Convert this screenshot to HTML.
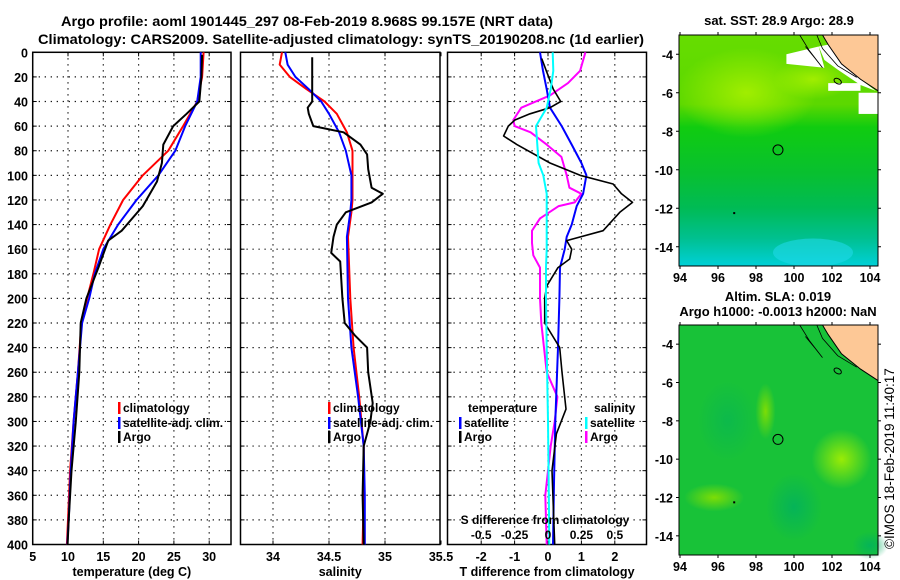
<!DOCTYPE html>
<html><head><meta charset="utf-8"><style>
body{margin:0;background:#fff;}
svg{display:block;font-family:"Liberation Sans",sans-serif;font-weight:bold;}
</style></head><body>
<svg id="chart" width="900" height="580" viewBox="0 0 900 580" xmlns="http://www.w3.org/2000/svg">
<defs>
<radialGradient id="gY1" cx="0.5" cy="0.5" r="0.5"><stop offset="0" stop-color="#a8f000" stop-opacity="0.9"/><stop offset="1" stop-color="#a8f000" stop-opacity="0"/></radialGradient>
<radialGradient id="gY2" cx="0.5" cy="0.5" r="0.5"><stop offset="0" stop-color="#88e000" stop-opacity="0.9"/><stop offset="1" stop-color="#88e000" stop-opacity="0"/></radialGradient>
<radialGradient id="gB" cx="0.5" cy="0.5" r="0.5"><stop offset="0" stop-color="#00b060" stop-opacity="0.8"/><stop offset="1" stop-color="#00b060" stop-opacity="0"/></radialGradient>
<linearGradient id="sst" x1="0" y1="0" x2="0" y2="1">
<stop offset="0" stop-color="#66dd00"/><stop offset="0.3" stop-color="#5cd800"/><stop offset="0.4" stop-color="#10cc10"/><stop offset="0.6" stop-color="#08c030"/><stop offset="0.75" stop-color="#00bb55"/><stop offset="0.88" stop-color="#00c090"/><stop offset="1" stop-color="#00d0d8"/>
</linearGradient>
</defs>
<text x="61" y="26" font-size="14" textLength="492" lengthAdjust="spacingAndGlyphs">Argo profile: aoml 1901445_297 08-Feb-2019 8.968S 99.157E (NRT data)</text>
<text x="38" y="44" font-size="14" textLength="606" lengthAdjust="spacingAndGlyphs">Climatology: CARS2009. Satellite-adjusted climatology: synTS_20190208.nc (1d earlier)</text>
<g id="panels"></g>
<g id="maps"></g>
</svg>
<script>
// ---- data ----
const depthLevels = [0,20,40,60,80,100,120,140,160,180,200,220,260,300,340,380,400];
const tempClim   = [29.2,29.0,28.3,26.3,24.2,20.6,17.8,16.0,14.4,13.6,12.7,11.9,11.4,10.8,10.3,10.0,9.85];
const tempSat    = [28.8,28.8,28.3,26.6,25.2,22.8,19.7,17.1,15.0,13.8,13.0,12.0,11.4,10.8,10.4,10.1,9.9];
const argoDepth  = [2,20,40,50,60,75,90,105,125,145,153,175,200,220,260,300,340,380,400];
const tempArgo   = [29.0,28.9,28.6,26.8,24.9,23.5,23.3,22.6,20.6,17.6,15.7,14.3,12.6,11.8,11.6,11.1,10.5,10.1,9.95];

const salDepth   = [0,10,20,30,40,50,65,80,100,120,130,150,200,240,280,320,360,400];
const salClim    = [34.08,34.06,34.15,34.30,34.46,34.57,34.66,34.71,34.71,34.71,34.70,34.67,34.69,34.72,34.77,34.81,34.81,34.80];
const salSat     = [34.11,34.13,34.20,34.32,34.43,34.50,34.59,34.65,34.70,34.70,34.69,34.66,34.67,34.70,34.76,34.81,34.82,34.82];
const salArgoDepth = [4,30,40,45,50,60,65,75,83,95,110,115,122,130,140,150,163,170,200,220,230,240,260,285,300,310,320,360,400];
const salArgo    = [34.35,34.35,34.35,34.31,34.32,34.36,34.63,34.78,34.84,34.85,34.88,34.98,34.88,34.65,34.57,34.54,34.52,34.60,34.62,34.64,34.73,34.84,34.85,34.89,34.87,34.84,34.81,34.80,34.81];

const diffDepth  = [0,15,30,45,60,75,90,100,115,125,140,150,160,175,200,240,300,350,400];
const tDiffSat   = [-0.24,-0.15,-0.04,0.06,0.41,0.71,1.0,1.15,1.05,0.86,0.71,0.56,0.50,0.36,0.34,0.30,0.22,0.18,0.15];
const sDiffSat   = [0.035,0.04,0.02,-0.01,-0.09,-0.08,-0.07,-0.035,-0.01,-0.01,-0.01,-0.01,-0.01,-0.015,-0.015,-0.01,0.0,0.005,0.01];
const tArgoDepth = [5,15,30,40,45,50,55,60,68,75,90,100,107,115,122,130,145,153,160,168,175,190,200,220,240,260,290,310,340,400];
const tDiffArgo  = [-0.19,-0.05,0.16,0.38,0.06,-0.54,-0.99,-1.19,-1.33,-0.93,0.06,0.96,1.95,2.2,2.53,2.15,1.65,0.56,0.71,0.65,0.3,-0.04,-0.1,-0.1,0.35,0.42,0.54,0.25,0.12,0.2];
const sArgoDepth = [0,15,25,35,45,55,60,65,75,85,100,110,115,122,125,135,145,155,165,175,200,220,240,260,280,300,320,360,400];
const sDiffArgo  = [0.28,0.24,0.15,0.015,-0.2,-0.26,-0.25,-0.13,-0.01,0.10,0.14,0.16,0.25,0.20,0.08,-0.06,-0.12,-0.12,-0.11,-0.06,-0.06,-0.05,-0.03,-0.01,0.07,0.05,0.02,-0.02,-0.01];

const depthTicks = [0,20,40,60,80,100,120,140,160,180,200,220,240,260,280,300,320,340,360,380,400];
const tempTicks  = [5,10,15,20,25,30];
const salTicks   = [34,34.5,35,35.5];
const tdTicks    = [-2,-1,0,1,2];
const sdTicks    = [-0.5,-0.25,0,0.25,0.5];
const sdLabels   = ['-0.5','-0.25','0','0.25','0.5'];
const tdLabels   = ['-2','-1','0','1','2'];

// ---- geometry ----
const NS='http://www.w3.org/2000/svg';
const top0=52.3, bot0=544.5;
const yD = d => top0 + d*(bot0-top0)/400;
const xT = t => 32.7 + (t-5)*7.06;
const xS = s => 329 + (s-34.5)*112;
const xTD = t => 548 + t*33.4;
const xSD = s => 548 + s/0.25*33.4;
const panels=document.getElementById('panels');
function mk(tag,attrs,parent){const e=document.createElementNS(NS,tag);for(const k in attrs)e.setAttribute(k,attrs[k]);(parent||panels).appendChild(e);return e;}
function txt(x,y,s,size,anchor,parent){const e=mk('text',{x:x,y:y,'font-size':size,'text-anchor':anchor||'middle'},parent);e.textContent=s;return e;}

function frame(x0,x1,name,xticks,xf,labels,xlabel){
  const g=mk('g',{});
  
  
  depthTicks.forEach(d=>{ if(d>0&&d<400){ mk('line',{x1:x0,x2:x1,y1:yD(d),y2:yD(d),stroke:'#000','stroke-width':1.2,'stroke-dasharray':'1.2 4.8'},g);} 
    mk('line',{x1:x0,x2:x0+4,y1:yD(d),y2:yD(d),stroke:'#000'},g); mk('line',{x1:x1-4,x2:x1,y1:yD(d),y2:yD(d),stroke:'#000'},g);});
  xticks.forEach((v,i)=>{const x=xf(v); if(x>x0+2&&x<x1-2){mk('line',{x1:x,x2:x,y1:top0,y2:bot0,stroke:'#000','stroke-width':1.2,'stroke-dasharray':'1.2 4.8'},g);}
    mk('line',{x1:x,x2:x,y1:top0,y2:top0+4,stroke:'#000'},g); mk('line',{x1:x,x2:x,y1:bot0-4,y2:bot0,stroke:'#000'},g);
    if(labels){const t=txt(x,561,labels[i],12.5,'middle',g); }});
  mk('rect',{x:x0,y:top0,width:x1-x0,height:bot0-top0,fill:'none',stroke:'#000','stroke-width':1.5},g);
  const xl=txt((x0+x1)/2,576,xlabel,12.5,'middle',g); 
  return g;
}
function line(xs,ds,xf,color,name,w){
  const pts=xs.map((v,i)=>xf(v).toFixed(1)+','+yD(ds[i]).toFixed(1)).join(' ');
  const p=mk('polyline',{points:pts,fill:'none',stroke:color,'stroke-width':w||2,'stroke-linejoin':'round'});
  
  
}
function legend(x,y,color,label,g){
  mk('rect',{x:x,y:y-10,width:2.5,height:12,fill:color},g);
  txt(x+5,y,label,12,'start',g);
}

depthTicks.forEach(d=>{const t=txt(28,yD(d)+5,String(d),12.5,'end');  });

const g1=frame(32.7,231,'temperature-panel',tempTicks,xT,tempTicks.map(String),'temperature (deg C)');
line(tempClim,depthLevels,xT,'#f00','temp-climatology-line');
line(tempSat,depthLevels,xT,'#00f','temp-satellite-line');
line(tempArgo,argoDepth,xT,'#000','temp-argo-line');
const l1=mk('g',{});  
legend(118,412,'#f00','climatology',l1);legend(118,427,'#00f','satellite-adj. clim.',l1);legend(118,441,'#000','Argo',l1);

const g2=frame(240.5,440,'salinity-panel',salTicks,xS,['34','34.5','35','35.5'],'salinity');
line(salClim,salDepth,xS,'#f00','sal-climatology-line');
line(salSat,salDepth,xS,'#00f','sal-satellite-line');
line(salArgo,salArgoDepth,xS,'#000','sal-argo-line');
const l2=mk('g',{});  
legend(328,412,'#f00','climatology',l2);legend(328,427,'#00f','satellite-adj. clim.',l2);legend(328,441,'#000','Argo',l2);

const g3=frame(447.5,646.5,'difference-panel',tdTicks,xTD,tdLabels,'T difference from climatology');
line(sDiffArgo,sArgoDepth,xSD,'#f0f','sal-diff-argo-line');
line(tDiffSat,diffDepth,xTD,'#00f','temp-diff-satellite-line');
line(tDiffArgo,tArgoDepth,xTD,'#000','temp-diff-argo-line',1.6);
line(sDiffSat,diffDepth,xSD,'#0ff','sal-diff-satellite-line');
const l3=mk('g',{});  
txt(468,412,'temperature',12,'start',l3);legend(459,427,'#00f','satellite',l3);legend(459,441,'#000','Argo',l3);
txt(594,412,'salinity',12,'start',l3);legend(585,427,'#0ff','satellite',l3);legend(585,441,'#f0f','Argo',l3);
const sdt=txt(545,524,'S difference from climatology',12,'middle'); 
sdTicks.forEach((v,i)=>{const t=txt(xSD(v),539,sdLabels[i],12,'middle'); });

// ---- maps ----
const mapsG=document.getElementById('maps');
const lonTicks=[94,96,98,100,102,104];
const latTicks=[-4,-6,-8,-10,-12,-14];
function mapFrame(y0,y1,kind){
  const g=mk('g',{},mapsG);
  
  
  const x0=679,x1=878;
  const lx=lon=>680+(lon-94)*19;
  const ly=lat=>y0+(-3-lat)*(y1-y0)/12;
  if(kind==='sst'){
    mk('rect',{x:x0,y:y0,width:x1-x0,height:y1-y0,fill:'url(#sst)'},g);
    mk('ellipse',{cx:lx(97.5),cy:ly(-6),rx:70,ry:45,fill:'url(#gY1)'},g);
    mk('ellipse',{cx:lx(101),cy:ly(-5.3),rx:40,ry:20,fill:'url(#gY1)'},g);
    mk('ellipse',{cx:lx(101),cy:ly(-14.3),rx:40,ry:14,fill:'#20d8e8',opacity:0.6},g);
    mk('polygon',{points:`${lx(99.6)},${ly(-4)} ${lx(101.3)},${ly(-3.6)} ${lx(101.6)},${ly(-4.7)} ${lx(99.6)},${ly(-4.5)}`,fill:'#fff'},g);
    mk('polygon',{points:`${lx(101.3)},${ly(-3.6)} ${lx(101.8)},${ly(-3.5)} ${lx(102.5)},${ly(-4.5)} ${lx(103.5)},${ly(-5.3)} ${lx(104.3)},${ly(-5.9)} ${lx(103.5)},${ly(-5.6)} ${lx(102.3)},${ly(-4.8)} ${lx(101.6)},${ly(-4.3)}`,fill:'#fff'},g);
    mk('rect',{x:lx(101.8),y:ly(-5.5),width:lx(103.5)-lx(101.8),height:ly(-5.9)-ly(-5.5),fill:'#fff'},g);
    mk('rect',{x:lx(103.4),y:ly(-6),width:x1-lx(103.4),height:ly(-7.1)-ly(-6),fill:'#fff'},g);
  } else {
    mk('rect',{x:x0,y:y0,width:x1-x0,height:y1-y0,fill:'#18c238'},g);
    mk('ellipse',{cx:lx(102.5),cy:ly(-10),rx:30,ry:30,fill:'url(#gY1)'},g);
    mk('ellipse',{cx:lx(95.8),cy:ly(-12),rx:30,ry:14,fill:'url(#gY2)'},g);
    mk('ellipse',{cx:lx(98.5),cy:ly(-7.5),rx:10,ry:28,fill:'url(#gY2)'},g);
    mk('ellipse',{cx:lx(100),cy:ly(-12.5),rx:28,ry:34,fill:'url(#gB)'},g);
    mk('ellipse',{cx:lx(96.5),cy:ly(-8),rx:30,ry:40,fill:'url(#gB)',opacity:0.6},g);
    mk('ellipse',{cx:lx(104),cy:ly(-14.5),rx:18,ry:14,fill:'url(#gB)'},g);
  }
  mk('polygon',{points:`${lx(101.5)},${y0} ${x1},${y0} ${x1},${ly(-5.9)} ${lx(103.5)},${ly(-5.3)} ${lx(102.5)},${ly(-4.5)} ${lx(101.8)},${ly(-3.5)}`,fill:'#fdc896'},g);
  mk('polyline',{points:`${lx(101.5)},${y0} ${lx(101.8)},${ly(-3.5)} ${lx(102.5)},${ly(-4.5)} ${lx(103.5)},${ly(-5.3)} ${x1},${ly(-5.9)}`,fill:'none',stroke:'#000','stroke-width':1},g);
  mk('polyline',{points:`${lx(101.2)},${y0} ${lx(101.5)},${ly(-3.7)} ${lx(102.3)},${ly(-4.6)} ${lx(103.3)},${ly(-5.2)}`,fill:'none',stroke:'#000','stroke-width':0.8},g);
  mk('polyline',{points:`${lx(100.3)},${y0} ${lx(100.8)},${ly(-3.8)} ${lx(101.5)},${ly(-4.7)} ${lx(101.1)},${ly(-4.2)} ${lx(100.6)},${ly(-3.6)}`,fill:'none',stroke:'#000','stroke-width':0.8},g);
  mk('ellipse',{cx:lx(102.3),cy:ly(-5.4),rx:4,ry:2.5,fill:'none',stroke:'#000','stroke-width':1,transform:`rotate(30 ${lx(102.3)} ${ly(-5.4)})`},g);
  mk('rect',{x:lx(96.8),y:ly(-12.2),width:2,height:2,fill:'#000'},g);
  const c=mk('circle',{cx:lx(99.157),cy:ly(-8.968),r:5,fill:'none',stroke:'#000','stroke-width':1},g);
  
  
  mk('rect',{x:x0,y:y0,width:x1-x0,height:y1-y0,fill:'none',stroke:'#000','stroke-width':1},g);
  lonTicks.forEach(l=>{mk('line',{x1:lx(l),x2:lx(l),y1:y0-3,y2:y0,stroke:'#000'},g);mk('line',{x1:lx(l),x2:lx(l),y1:y1,y2:y1+3,stroke:'#000'},g);
    const t=txt(lx(l),y1+16,String(l),12.5,'middle',g); });
  latTicks.forEach(l=>{mk('line',{x1:x0-3,x2:x0,y1:ly(l),y2:ly(l),stroke:'#000'},g);mk('line',{x1:x1,x2:x1+3,y1:ly(l),y2:ly(l),stroke:'#000'},g);
    const t=txt(673,ly(l)+5,String(l),12.5,'end',g); });
}
mapFrame(35,266,'sst');
mapFrame(325,555,'sla');
const t1=txt(779,25,'sat. SST: 28.9 Argo: 28.9',13,'middle',mapsG); 
const t2=txt(778,301,'Altim. SLA: 0.019',13,'middle',mapsG); 
const t3=txt(778,316,'Argo h1000: -0.0013 h2000: NaN',13,'middle',mapsG); 
const cp=mk('text',{x:894,y:549,'font-size':13.5,'font-weight':'normal',transform:'rotate(-90 894 549)'},mapsG);
cp.textContent='©IMOS 18-Feb-2019 11:40:17';


</script>
</body></html>
